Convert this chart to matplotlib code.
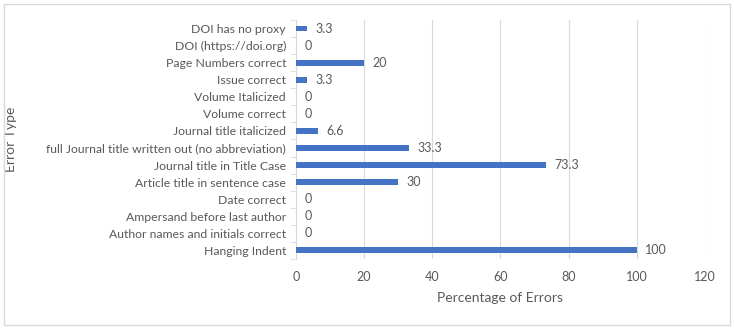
import matplotlib.pyplot as plt
from matplotlib.patches import Rectangle
import numpy as np

# Error types, bottom to top as shown in the chart
categories = [
    "Hanging Indent",
    "Author names and initials correct",
    "Ampersand before last author",
    "Date correct",
    "Article title in sentence case",
    "Journal title in Title Case",
    "full Journal title written out (no abbreviation)",
    "Journal title italicized",
    "Volume correct",
    "Volume Italicized",
    "Issue correct",
    "Page Numbers correct",
    "DOI (https://doi.org)",
    "DOI has no proxy",
]
percentages = [100, 0, 0, 0, 30, 73.3, 33.3, 6.6, 0, 0, 3.3, 20, 0, 3.3]
x_ticks = [0, 20, 40, 60, 80, 100, 120]

plt.rcParams['font.family'] = ['Lato', 'DejaVu Sans']
TEXT = '#595959'
GRID = '#D9D9D9'

fig = plt.figure(figsize=(7.34, 3.29), dpi=100)
ax = fig.add_axes([0.403, 0.213, 0.5575, 0.726])

y = np.arange(len(categories))
ax.barh(y, percentages, height=0.34, color='#4472C4', zorder=3)

for yi, v in zip(y, percentages):
    label = f"{v:g}"
    ax.text(v + 2.5, yi, label, va='center', ha='left', fontsize=9, color=TEXT)

ax.set_xlim(0, 120)
ax.set_ylim(-0.5, len(categories) - 0.5)
ax.set_xticks(x_ticks)
ax.set_yticks(y)
ax.set_yticklabels(categories)
ax.set_yticks(np.arange(-0.5, len(categories), 1), minor=True)
ax.tick_params(axis='y', which='major', length=0, pad=7, labelsize=8.8, labelcolor=TEXT)
ax.tick_params(axis='y', which='minor', length=4, color=GRID, direction='out')
ax.tick_params(axis='x', length=0, pad=9, labelsize=9, labelcolor=TEXT)
ax.grid(axis='x', color=GRID, linewidth=0.8, zorder=0)

for s in ['top', 'right', 'bottom']:
    ax.spines[s].set_visible(False)
ax.spines['left'].set_color(GRID)

ax.set_xlabel("Percentage of Errors", fontsize=10, color=TEXT, labelpad=6)
ax.set_ylabel("Error Type", fontsize=10, color=TEXT)
ax.yaxis.set_label_coords(-0.681, 0.5)

fig.patches.append(Rectangle((0.006, 0.012), 0.988, 0.976, transform=fig.transFigure,
                             fill=False, edgecolor=GRID, linewidth=1))

fig.savefig("out.png", dpi=100)
